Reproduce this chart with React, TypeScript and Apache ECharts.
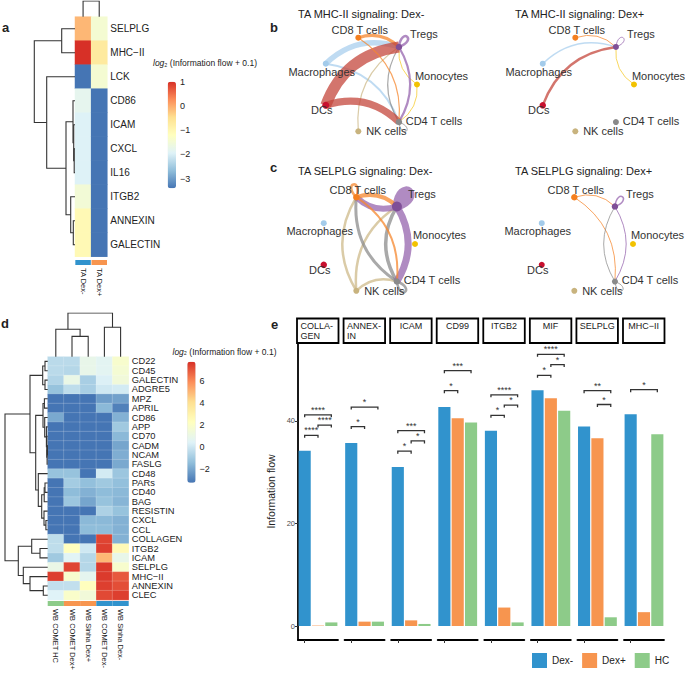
import React, { useEffect, useRef } from 'react';
import * as echarts from 'echarts';

const FONT = '"Liberation Sans", Arial, Helvetica, sans-serif';
const RDYLBU = ['#4575b4', '#91bfdb', '#e0f3f8', '#ffffbf', '#fee090', '#fc8d59', '#d73027'];
const GROUP_COLORS: Record<string, string> = { 'Dex-': '#3193cd', 'Dex+': '#f7954f', HC: '#8dcb89' };

// ---------------- Panel a ----------------
const aRows = ['SELPLG', 'MHC−II', 'LCK', 'CD86', 'ICAM', 'CXCL', 'IL16', 'ITGB2', 'ANNEXIN', 'GALECTIN'];
const aCols = ['TA Dex-', 'TA Dex+'];
const aColGroups = ['Dex-', 'Dex+'];
const aDexNeg = [-0.1, 1.0, -3.4, -1.8, -1.95, -1.95, -1.95, -1.5, -1.05, -1.05];
const aDexPos = [-1.45, -0.7, -1.45, -3.4, -3.4, -3.4, -3.4, -3.4, -3.4, -3.4];
const aRowMerges = [[5, 6, 0.8], [4, 10, 1.3], [3, 11, 2.0], [8, 9, 1.7], [7, 13, 4.3], [12, 14, 9], [2, 15, 28.3], [0, 1, 13.3], [17, 16, 40.7]];
const aColMerges = [[0, 1, 1]];
const aRange = [-3.4, 1.0];
const aTicks = [-3, -2, -1, 0, 1];

// ---------------- Panel d ----------------
const dRows = ['CD22', 'CD45', 'GALECTIN', 'ADGRE5', 'MPZ', 'APRIL', 'CD86', 'APP', 'CD70', 'CADM', 'NCAM', 'FASLG', 'CD48', 'PARs', 'CD40', 'BAG', 'RESISTIN', 'CXCL', 'CCL', 'COLLAGEN', 'ITGB2', 'ICAM', 'SELPLG', 'MHC−II', 'ANNEXIN', 'CLEC'];
const dCols = ['WB COMET HC', 'WB COMET Dex+', 'WB Sinha Dex+', 'WB COMET Dex-', 'WB Sinha Dex-'];
const dColGroups = ['HC', 'Dex+', 'Dex+', 'Dex-', 'Dex-'];
const dCometHC = [-0.5, -0.5, -0.7, -1.3, -3.3, -3.3, -2.0, -3.3, -3.3, -3.3, -3.3, -3.3, -1.3, -3.3, -3.3, -3.3, -3.3, -3.3, -3.3, -0.4, -0.4, -1.1, 1.0, 7.5, -0.3, 0.4];
const dCometDexPos = [-0.5, -0.6, 1.0, -0.4, -3.3, -3.3, -3.3, -3.3, -3.3, -3.3, -3.3, -3.3, -1.3, -1.0, -1.5, -1.2, -3.3, -3.3, -3.3, -3.3, 2.3, 0.5, 7.4, 1.8, -0.3, 1.9];
const dSinhaDexPos = [0.9, 0.9, -0.9, -0.9, -3.3, -3.3, -3.3, -3.3, -3.3, -3.3, -3.3, -3.3, -3.3, -1.4, -1.8, -2.1, -3.3, -1.6, -1.5, -3.3, 0.0, -0.6, -0.6, 0.7, 2.3, 1.4];
const dCometDexNeg = [0.6, 0.6, 0.3, 0.0, -2.3, -1.6, -3.3, -3.3, -3.3, -3.3, -3.3, -3.3, 0.1, -1.1, -1.5, -1.3, -0.8, -1.6, -1.5, 7.4, 7.5, 5.0, 7.6, 7.6, 7.5, 7.3];
const dSinhaDexNeg = [1.8, 1.6, 1.4, 0.1, -2.2, -3.0, -1.8, -1.1, -1.6, -2.1, -1.9, -2.0, -1.2, -1.4, -1.6, -1.7, -1.3, -1.8, -1.8, -1.8, 2.6, 0.9, 1.8, 7.0, 7.2, 7.5];
const dRowMerges = [
  [0, 1, 2.7], [2, 3, 2.7], [26, 27, 5],
  [9, 10, 0.3], [29, 11, 0.6], [8, 30, 0.9], [7, 31, 1.3], [6, 32, 3.0], [4, 5, 3.3], [34, 33, 4.7],
  [13, 14, 2.7], [36, 15, 3.5], [17, 18, 1.8], [16, 38, 3.7], [37, 39, 6], [12, 40, 9.4],
  [35, 41, 12], [28, 42, 17.7],
  [20, 21, 7.7], [19, 44, 16], [24, 25, 4.4], [23, 46, 17.7], [22, 47, 24.4], [45, 48, 29.4],
  [43, 49, 42.7],
];
const dColMerges = [[1, 2, 20], [0, 5, 27], [3, 4, 29], [6, 7, 43]];
const dRange = [-3.3, 7.8];
const dTicks = [-2, 0, 2, 4, 6];

// ---------------- Panels b / c (networks) ----------------
const cells = ['Monocytes', 'Tregs', 'CD8 T cells', 'Macrophages', 'DCs', 'NK cells', 'CD4 T cells'];
const cellColors = ['#f2c200', '#7f4f97', '#f47f1f', '#a3cbea', '#c8102e', '#c8b37e', '#8a8a8a'];
const edgeColors = ['#f5c92a', '#9564ad', '#f5872e', '#a9cfee', '#c4473c', '#cdb98a', '#8c8c8c'];
// edges: [source, target, width]
const bNegEdges = [[3, 6, 2], [3, 1, 5.5], [2, 1, 3], [0, 1, 1], [0, 6, 1], [5, 1, 1.2], [6, 1, 1.2], [6, 6, 1], [1, 6, 2.2], [1, 1, 2.5], [4, 6, 7], [4, 1, 11], [2, 6, 1.2]];
const bPosEdges = [[3, 1, 1.5], [2, 1, 1], [0, 1, 1], [1, 1, 1], [4, 1, 2.5]];
const cNegEdges = [[5, 2, 2.5], [5, 1, 2.5], [5, 6, 2.5], [6, 2, 3], [6, 1, 3.5], [6, 6, 2.5], [1, 2, 6], [1, 6, 7], [1, 1, 9], [2, 1, 4], [2, 6, 2], [2, 2, 2.5]];
const cPosEdges = [[2, 1, 1], [2, 6, 1], [1, 1, 1.5], [1, 6, 1], [6, 1, 1], [6, 6, 1]];
const bNegNodeSize = [6, 6.5, 6, 6, 7, 6, 6.5];
const bPosNodeSize = [6, 6, 6, 6, 6.5, 6, 6];
const cNegNodeSize = [6, 10, 6.5, 6, 6.5, 6, 6.5];
const cPosNodeSize = [6, 6.5, 6.5, 6, 6, 6, 6];

// ---------------- Panel e ----------------
const eSignals = ['COLLAGEN', 'ANNEXIN', 'ICAM', 'CD99', 'ITGB2', 'MIF', 'SELPLG', 'MHC-II'];
const eStripLabels = ['COLLA-\nGEN', 'ANNEX-\nIN', 'ICAM', 'CD99', 'ITGB2', 'MIF', 'SELPLG', 'MHC−II'];
const eGroups = ['Dex-', 'Dex+', 'HC'];
const eDexNeg = [34.2, 35.7, 31.0, 42.7, 38.1, 46.0, 38.9, 41.3];
const eDexPos = [0.08, 0.85, 1.1, 40.5, 3.6, 44.4, 36.6, 2.7];
const eHC = [0.7, 0.85, 0.4, 39.7, 0.7, 42.0, 1.7, 37.4];
const eTicks = [0, 20, 40];
// brackets: [facet, fromGroup, toGroup, y, nStars]
const eBrackets = [
  [0, 0, 1, 37.2, 4], [0, 1, 2, 39.2, 4], [0, 0, 2, 41.2, 4],
  [1, 0, 1, 38.9, 1], [1, 0, 2, 42.7, 1],
  [2, 0, 1, 34.1, 1], [2, 1, 2, 36.1, 1], [2, 0, 2, 38.1, 3],
  [3, 0, 1, 45.9, 1], [3, 0, 2, 49.8, 3],
  [4, 0, 1, 41.1, 1], [4, 1, 2, 43.1, 1], [4, 0, 2, 45.1, 4],
  [5, 0, 1, 48.9, 1], [5, 1, 2, 51.0, 1], [5, 0, 2, 53.0, 4],
  [6, 1, 2, 43.2, 1], [6, 0, 2, 45.9, 2],
  [7, 0, 2, 46.1, 1],
];

// ---------------- helpers ----------------
function dendro(merges: number[][], n: number, horizontal: boolean) {
  const pos: number[] = [];
  const hgt: number[] = [];
  for (let i = 0; i < n; i++) { pos[i] = i + 0.5; hgt[i] = 0; }
  const out: any[] = [];
  merges.forEach(([a, b, h], k) => {
    const id = n + k;
    pos[id] = (pos[a] + pos[b]) / 2;
    hgt[id] = h;
    const pts = [[hgt[a], pos[a]], [h, pos[a]], [h, pos[b]], [hgt[b], pos[b]]];
    out.push({ coords: horizontal ? pts : pts.map(([x, y]) => [y, x]) });
  });
  return out;
}
const minus = (v: number) => (v < 0 ? '−' + Math.abs(v) : String(v));

function buildOption() {
  const grids: any[] = [];
  const xAxes: any[] = [];
  const yAxes: any[] = [];
  const series: any[] = [];
  const graphic: any[] = [];
  const addGrid = (g: any, x: any, y: any) => {
    grids.push({ ...g, containLabel: false });
    const i = grids.length - 1;
    xAxes.push({ ...x, gridIndex: i });
    yAxes.push({ ...y, gridIndex: i });
    return i;
  };
  const hidden = (min: number, max: number, inverse = false) => ({ type: 'value', min, max, inverse, show: false });
  const dendroStyle = { color: '#333', width: 1.1, opacity: 1 };
  const txt = (text: string, x: number, y: number, size: number, extra: any = {}) => ({
    type: 'text', x, y, silent: true,
    style: { text, fill: '#222', font: `${extra.weight || 'normal'} ${size}px ${FONT}`, align: extra.align || 'left', verticalAlign: extra.va || 'middle', textAlign: extra.align || 'left', textVerticalAlign: extra.va || 'middle' },
  });

  // ---------- heatmap panel builder ----------
  function heatPanel(cfg: any) {
    const { rows, cols, colGroups, values, rowMerges, colMerges, left, top, width, height, rowDendroLeft, colDendroTop, annGap, annH, labelSize, labelLH, colLabelSize, border } = cfg;
    const g = addGrid({ left, top, width, height },
      { type: 'category', data: cols, show: false },
      { type: 'category', data: rows, inverse: true, position: 'right', axisLine: { show: false }, axisTick: { show: false }, axisLabel: { interval: 0, fontSize: labelSize, lineHeight: labelLH, color: '#222', margin: 3, fontFamily: FONT } });
    const data: any[] = [];
    values.forEach((col: number[], c: number) => col.forEach((v, r) => data.push([c, r, v])));
    series.push({ type: 'heatmap', xAxisIndex: g, yAxisIndex: g, data, silent: true, itemStyle: border ? { borderColor: 'rgba(255,255,255,0.35)', borderWidth: 0.5 } : {} });
    const heatIdx = series.length - 1;
    // annotation bar
    const ga = addGrid({ left, top: top + height + annGap, width, height: annH },
      { type: 'category', data: cols, axisLine: { show: false }, axisTick: { show: false }, axisLabel: { interval: 0, rotate: -90, fontSize: colLabelSize, color: '#222', margin: 3, fontFamily: FONT } },
      hidden(0, 1));
    series.push({ type: 'bar', xAxisIndex: ga, yAxisIndex: ga, barCategoryGap: cfg.annGapPct, silent: true, data: colGroups.map((gname: string) => ({ value: 1, itemStyle: { color: GROUP_COLORS[gname] } })) });
    // column dendrogram
    const ch = top - colDendroTop;
    const gc = addGrid({ left, top: colDendroTop, width, height: ch }, hidden(0, cols.length), hidden(0, colMerges[colMerges.length - 1][2]));
    series.push({ type: 'lines', coordinateSystem: 'cartesian2d', xAxisIndex: gc, yAxisIndex: gc, polyline: true, silent: true, lineStyle: dendroStyle, data: dendro(colMerges, cols.length, false) });
    // row dendrogram
    const rw = left - rowDendroLeft;
    const gr = addGrid({ left: rowDendroLeft, top, width: rw, height }, hidden(0, rw, true), hidden(0, rows.length, true));
    series.push({ type: 'lines', coordinateSystem: 'cartesian2d', xAxisIndex: gr, yAxisIndex: gr, polyline: true, silent: true, lineStyle: dendroStyle, data: dendro(rowMerges, rows.length, true) });
    return heatIdx;
  }

  // ---------- panel a ----------
  const aHeat = heatPanel({
    rows: aRows, cols: aCols, colGroups: aColGroups, values: [aDexNeg, aDexPos], rowMerges: aRowMerges, colMerges: aColMerges,
    left: 75, top: 16.7, width: 32.3, height: 240, rowDendroLeft: 30, colDendroTop: 1, annGap: 3.3, annH: 5,
    labelSize: 10, labelLH: 12, colLabelSize: 7.5, border: false, annGapPct: '4%',
  });
  // ---------- panel d ----------
  const dHeat = heatPanel({
    rows: dRows, cols: dCols, colGroups: dColGroups, values: [dCometHC, dCometDexPos, dSinhaDexPos, dCometDexNeg, dSinhaDexNeg], rowMerges: dRowMerges, colMerges: dColMerges,
    left: 47.7, top: 356.7, width: 81, height: 243.3, rowDendroLeft: 3, colDendroTop: 313, annGap: 1, annH: 5,
    labelSize: 9.3, labelLH: 9, colLabelSize: 7.5, border: true, annGapPct: '0%',
  });

  // colorbar tick axes
  const cbar = (left: number, top: number, h: number, range: number[], ticks: number[]) => {
    addGrid({ left, top, width: 8.3, height: h }, hidden(0, 1),
      { type: 'value', min: range[0], max: range[1], position: 'right', axisLine: { show: false }, axisTick: { show: false }, splitLine: { show: false },
        axisLabel: { customValues: ticks, fontSize: 9, color: '#222', margin: 4, formatter: (v: number) => minus(v), fontFamily: FONT } });
  };
  cbar(167.7, 81.7, 106.6, aRange, aTicks);
  cbar(187.3, 361.7, 121, dRange, dTicks);

  // ---------- networks ----------
  const R = 48;
  const STEP = (2 * Math.PI) / cells.length;
  const unit = (i: number) => [Math.cos(-i * STEP), Math.sin(-i * STEP)];
  const CURV = 0.3;
  const labelOffsets: Record<string, number[]> = {
    Monocytes: [24.5, -9], Tregs: [25, -12.5], 'CD8 T cells': [1.5, -7.5], Macrophages: [-4, 8], DCs: [-4, 5], 'NK cells': [28, 0], 'CD4 T cells': [35, -1.5],
  };
  const nets = [
    { title: 'TA MHC-II signaling: Dex-', cx: 369, cy: 84.5, edges: bNegEdges, sizes: bNegNodeSize, tx: 298, ty: 14.3 },
    { title: 'TA MHC-II signaling: Dex+', cx: 586, cy: 84.5, edges: bPosEdges, sizes: bPosNodeSize, tx: 515, ty: 14.3 },
    { title: 'TA SELPLG signaling: Dex-', cx: 367, cy: 244, edges: cNegEdges, sizes: cNegNodeSize, tx: 298, ty: 170.7 },
    { title: 'TA SELPLG signaling: Dex+', cx: 585, cy: 244, edges: cPosEdges, sizes: cPosNodeSize, tx: 515, ty: 170.7 },
  ];
  nets.forEach((n) => {
    const s = 2.6 * R;
    const g = addGrid({ left: n.cx - s / 2, top: n.cy - s / 2, width: s, height: s }, hidden(-1.3, 1.3), hidden(-1.3, 1.3, true));
    series.push({
      type: 'custom', coordinateSystem: 'cartesian2d', xAxisIndex: g, yAxisIndex: g, silent: true, clip: false,
      data: n.edges,
      renderItem: (params: any, api: any) => {
        const si = api.value(0), ti = api.value(1), w = api.value(2);
        const p1 = api.coord(unit(si));
        const p2 = api.coord(unit(ti));
        const style = { stroke: edgeColors[si], lineWidth: w, fill: 'none', opacity: 0.75 };
        if (si === ti) {
          const a = -si * STEP;
          const D = 17 + w * 1.4;
          return {
            type: 'bezierCurve',
            shape: { x1: p1[0], y1: p1[1], x2: p1[0], y2: p1[1], cpx1: p1[0] + D * Math.cos(a - 0.55), cpy1: p1[1] + D * Math.sin(a - 0.55), cpx2: p1[0] + D * Math.cos(a + 0.55), cpy2: p1[1] + D * Math.sin(a + 0.55) },
            style,
          };
        }
        const dx = p2[0] - p1[0], dy = p2[1] - p1[1];
        return {
          type: 'bezierCurve',
          shape: { x1: p1[0], y1: p1[1], x2: p2[0], y2: p2[1], cpx1: (p1[0] + p2[0]) / 2 + CURV * dy, cpy1: (p1[1] + p2[1]) / 2 - CURV * dx },
          style,
        };
      },
    });
    series.push({
      type: 'scatter', xAxisIndex: g, yAxisIndex: g, silent: true, z: 3,
      data: cells.map((name, i) => ({
        name, value: unit(i), symbolSize: n.sizes[i], itemStyle: { color: cellColors[i], opacity: 1 },
        label: { show: true, formatter: name, position: 'inside', align: 'center', verticalAlign: 'middle', offset: labelOffsets[name], color: '#333', fontSize: 11, fontFamily: FONT, textBorderWidth: 0 },
      })),
    });
    graphic.push(txt(n.title, n.tx, n.ty, 11));
  });

  // ---------- panel e ----------
  const facetLeft = (i: number) => 298 + i * 46.57;
  const eVals = [eDexNeg, eDexPos, eHC];
  eSignals.forEach((sig, i) => {
    const g = addGrid({ left: facetLeft(i), top: 343, width: 40, height: 297 },
      { type: 'category', data: eGroups, axisLine: { onZero: false, lineStyle: { color: '#000', width: 1.8 } }, axisTick: { show: true, alignWithLabel: true, length: 3, lineStyle: { color: '#333', width: 1 } }, axisLabel: { show: false } },
      {
        type: 'value', min: -2.73, max: 55.2, show: i === 0, splitLine: { show: false },
        axisLine: { show: true, lineStyle: { color: '#000', width: 1.8 } },
        axisTick: { show: true, length: 3, customValues: eTicks, lineStyle: { color: '#333' } },
        axisLabel: { customValues: eTicks, fontSize: 7.5, color: '#4d4d4d', margin: 3, fontFamily: FONT },
        name: i === 0 ? 'Information flow' : '', nameLocation: 'middle', nameGap: 22, nameTextStyle: { fontSize: 10.5, color: '#222', fontFamily: FONT },
      });
    eGroups.forEach((gname, gi) => {
      series.push({
        type: 'bar', name: gname, stack: 'f' + i, xAxisIndex: g, yAxisIndex: g, barCategoryGap: '9%', silent: true,
        itemStyle: { color: GROUP_COLORS[gname] },
        data: eGroups.map((_, k) => (k === gi ? eVals[gi][i] : '-')),
      });
    });
    series.push({
      type: 'custom', coordinateSystem: 'cartesian2d', xAxisIndex: g, yAxisIndex: g, silent: true, clip: false, z: 4,
      data: eBrackets.filter((b) => b[0] === i).map((b) => [b[1], b[2], b[3], b[4]]),
      renderItem: (params: any, api: any) => {
        const a = api.coord([api.value(0), api.value(2)]);
        const b = api.coord([api.value(1), api.value(2)]);
        const y = a[1];
        const n = api.value(3);
        return {
          type: 'group',
          children: [
            { type: 'polyline', shape: { points: [[a[0], y + 2.5], [a[0], y], [b[0], y], [b[0], y + 2.5]] }, style: { stroke: '#333', lineWidth: 1.3, fill: 'none' } },
            { type: 'text', x: (a[0] + b[0]) / 2, y: y - 0.5, style: { text: '*'.repeat(n), fill: '#333', font: `9px ${FONT}`, align: 'center', verticalAlign: 'bottom', textAlign: 'center', textVerticalAlign: 'bottom' } },
          ],
        };
      },
    });
    // strip
    const sx = facetLeft(i) - 1;
    graphic.push({ type: 'rect', shape: { x: sx, y: 318.5, width: 41.5, height: 24.5 }, style: { fill: '#fff', stroke: '#000', lineWidth: 1.8 }, silent: true });
    const multi = eStripLabels[i].includes('\n');
    graphic.push({
      type: 'text', x: multi ? sx + 3.5 : sx + 20.75, y: 321, silent: true,
      style: { text: eStripLabels[i], fill: '#222', font: `9px ${FONT}`, lineHeight: 10, align: multi ? 'left' : 'center', verticalAlign: 'top', textAlign: multi ? 'left' : 'center', textVerticalAlign: 'top' },
    });
  });

  // ---------- texts ----------
  graphic.push(txt('a', 2, 27, 13, { weight: 'bold' }));
  graphic.push(txt('b', 270, 27, 13, { weight: 'bold' }));
  graphic.push(txt('c', 270, 167, 13, { weight: 'bold' }));
  graphic.push(txt('d', 1, 323, 13, { weight: 'bold' }));
  graphic.push(txt('e', 271, 324, 13, { weight: 'bold' }));
  const cbTitle = (x: number, y: number) => ({
    type: 'text', x, y, silent: true,
    style: {
      text: '{i|log}{s|₂}{n| (Information flow + 0.1)}', verticalAlign: 'middle', textVerticalAlign: 'middle', align: 'left', textAlign: 'left',
      rich: { i: { fontStyle: 'italic', fontSize: 8.5, fontFamily: FONT, fill: '#222' }, s: { fontSize: 8, fontFamily: FONT, fill: '#222' }, n: { fontSize: 8.5, fontFamily: FONT, fill: '#222' } },
    },
  });
  graphic.push(cbTitle(153, 63));
  graphic.push(cbTitle(172.5, 351.7));

  return {
    animation: false,
    backgroundColor: '#fff',
    textStyle: { fontFamily: FONT },
    grid: grids,
    xAxis: xAxes,
    yAxis: yAxes,
    series,
    graphic,
    visualMap: [
      { type: 'continuous', seriesIndex: aHeat, min: aRange[0], max: aRange[1], inRange: { color: RDYLBU }, left: 167.7, top: 81.7, itemWidth: 8.3, itemHeight: 106.6, padding: 0, calculable: false, hoverLink: false, show: true },
      { type: 'continuous', seriesIndex: dHeat, min: dRange[0], max: dRange[1], inRange: { color: RDYLBU }, left: 187.3, top: 361.7, itemWidth: 8.3, itemHeight: 121, padding: 0, calculable: false, hoverLink: false, show: true },
    ],
    legend: { data: eGroups, left: 532, top: 653, itemWidth: 15, itemHeight: 15, itemGap: 9, icon: 'rect', padding: 0, selectedMode: false, textStyle: { fontSize: 10, color: '#222', fontFamily: FONT } },
  };
}

export default function App() {
  const ref = useRef<HTMLDivElement>(null);
  useEffect(() => {
    const chart = echarts.init(ref.current as HTMLDivElement, undefined, { renderer: 'svg' });
    chart.setOption(buildOption() as any);
    return () => chart.dispose();
  }, []);
  return <div ref={ref} style={{ position: 'absolute', left: 0, top: 0, width: 685, height: 677, background: '#fff' }} />;
}
